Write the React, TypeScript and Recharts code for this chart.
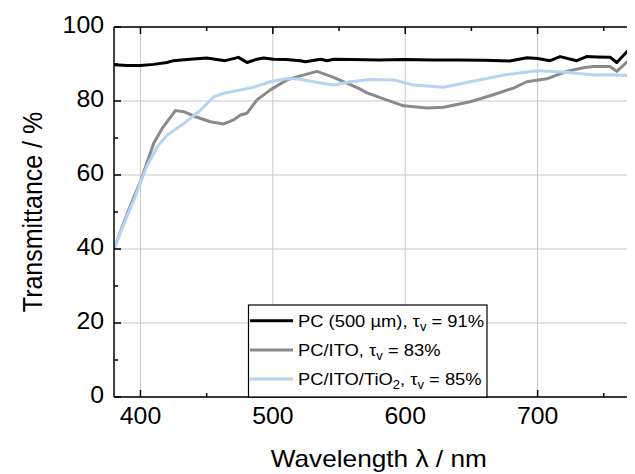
import React from 'react';
import { LineChart, Line, XAxis, YAxis, CartesianGrid } from 'recharts';

// ---- data ----
const pcWavelength = [380, 390, 400, 410, 420, 425, 435, 450, 464, 474, 480.5, 487, 493, 500.6, 510, 520.8, 524.5, 536, 541, 546, 560, 580, 600, 620, 640, 660, 679, 692, 700, 709.4, 717, 729.6, 737, 745, 755, 759.8, 769.8, 773.6, 780];
const pcT = [89.8, 89.6, 89.6, 89.9, 90.4, 90.9, 91.2, 91.6, 90.9, 91.8, 90.4, 91.2, 91.6, 91.3, 91.2, 90.9, 90.6, 91.3, 90.9, 91.3, 91.2, 91.1, 91.2, 91.1, 91.1, 91.0, 90.8, 91.7, 91.5, 90.9, 92.0, 90.9, 92.0, 91.9, 91.8, 90.4, 94.2, 93.0, 92.0];

const itoWavelength = [380, 385, 390, 395, 400, 410, 416.4, 426.4, 432.7, 442.8, 452.8, 462.9, 470.4, 475.5, 480.5, 488, 498.1, 510.7, 520.8, 533.4, 545.9, 558.5, 566, 571.1, 581.1, 598.7, 616.4, 628.9, 649.1, 666.6, 681.7, 691.8, 706.9, 722, 734.6, 742, 754.7, 759.8, 769.8, 773.6, 780];
const itoT = [40, 44.8, 49.5, 54, 58.2, 68.6, 72.6, 77.4, 77.1, 75.6, 74.4, 73.8, 74.9, 76.2, 76.7, 80.3, 83, 85.7, 86.8, 88, 86.4, 84.4, 83.2, 82.2, 80.9, 78.7, 78.1, 78.3, 79.8, 81.7, 83.5, 85.2, 86, 88, 89, 89.3, 89.3, 88, 91.3, 89.8, 89.5];

const tioWavelength = [380, 385, 390, 395, 400, 405, 410, 412.6, 420.2, 432.7, 445.3, 455.3, 462.9, 473, 485.5, 498.1, 510.7, 520.8, 533.4, 545.9, 558.5, 573.6, 591.2, 606.3, 628.9, 649.1, 674.2, 699.4, 722, 742.1, 755, 773.6, 780];
const tioT = [40, 44.5, 49, 53.2, 58, 62.5, 65.8, 67.6, 70.8, 73.9, 77.5, 81.1, 82.1, 82.8, 83.7, 85.2, 86.1, 85.9, 85.0, 84.3, 85.2, 85.8, 85.7, 84.3, 83.7, 85.2, 87, 88.2, 87.8, 87.0, 87.1, 86.8, 86.7];

const seriesNames = ['PC (500 µm)', 'PC/ITO', 'PC/ITO/TiO'];
const seriesNameSub = ['', '', '2'];
const tauV = [91, 83, 85];
const seriesColors = ['#000000', '#8a8a8a', '#b7d3f4'];

const xMajorTicks = [400, 500, 600, 700];
const xMinorTicks = [450, 550, 650, 750];
const yMajorTicks = [0, 20, 40, 60, 80, 100];
const yMinorTicks = [10, 30, 50, 70, 90];
const xDomain: [number, number] = [380, 780];
const yDomain: [number, number] = [0, 100];

const xTitle = 'Wavelength λ / nm';
const yTitle = 'Transmittance / %';

// ---- layout ----
const FONT = '"Liberation Sans", Arial, Helvetica, sans-serif';
const W = 660;
const H = 466;
const M = { top: 19, right: 24.5, left: 0, bottom: 0 };
const Y_W = 106;
const X_H = 77;
const SX = 1.08;

const plotLeft = M.left + Y_W;
const plotTop = M.top;
const plotBottom = H - M.bottom - X_H;
const plotRight = W - M.right;

const toPoints = (wl: number[], t: number[]) => wl.map((w, i) => ({ wl: w, t: t[i] }));
const series = [
  toPoints(pcWavelength, pcT),
  toPoints(itoWavelength, itoT),
  toPoints(tioWavelength, tioT),
];

const xAllTicks = [...xMajorTicks, ...xMinorTicks].sort((a, b) => a - b);
const yAllTicks = [...yMajorTicks, ...yMinorTicks].sort((a, b) => a - b);

const TICK_STROKE = { stroke: '#000', strokeWidth: 1.5 };

// grid only at major ticks: position from the chart's plot offset and the axis domain
const gridX = ({ offset }: any) => {
  const o = offset || { left: plotLeft, width: plotRight - plotLeft };
  return xMajorTicks.map((v) => o.left + ((v - xDomain[0]) / (xDomain[1] - xDomain[0])) * o.width);
};
const gridY = ({ offset }: any) => {
  const o = offset || { top: plotTop, height: plotBottom - plotTop };
  return yMajorTicks.map((v) => o.top + ((yDomain[1] - v) / (yDomain[1] - yDomain[0])) * o.height);
};

const XTick = (p: any) => {
  const v = p.payload.value;
  const major = xMajorTicks.includes(v);
  const len = major ? 7 : 4;
  return (
    <g>
      <line x1={p.x} x2={p.x} y1={plotBottom} y2={plotBottom - len} {...TICK_STROKE} />
      <line x1={p.x} x2={p.x} y1={plotTop} y2={plotTop + len} {...TICK_STROKE} />
      {major && (
        <text
          transform={`translate(${p.x},${p.y}) scale(${SX},1)`}
          textAnchor="middle"
          dy="0.72em"
          fontSize={23}
          fontFamily={FONT}
          fill="#000"
        >
          {v}
        </text>
      )}
    </g>
  );
};

const YTick = (p: any) => {
  const v = p.payload.value;
  const major = yMajorTicks.includes(v);
  const len = major ? 7 : 4;
  return (
    <g>
      <line x1={plotLeft} x2={plotLeft + len} y1={p.y} y2={p.y} {...TICK_STROKE} />
      {major && (
        <text
          transform={`translate(${p.x},${p.y}) scale(${SX},1)`}
          textAnchor="end"
          dy={6}
          fontSize={23}
          fontFamily={FONT}
          fill="#000"
        >
          {v}
        </text>
      )}
    </g>
  );
};

const legendBox = { x: 240.5, y: 297, w: 238.5 };
const legendRows = [312.7, 342, 371];

export default function App() {
  return (
    <div style={{ position: 'relative', width: 627, height: H, overflow: 'hidden' }}>
      <LineChart width={W} height={H} margin={M}>
        <CartesianGrid
          xAxisId="x"
          yAxisId="y"
          stroke="#c9c9c9"
          strokeWidth={1}
          verticalCoordinatesGenerator={gridX}
          horizontalCoordinatesGenerator={gridY}
        />
        <XAxis
          xAxisId="x"
          dataKey="wl"
          type="number"
          domain={xDomain}
          allowDataOverflow
          ticks={xAllTicks}
          interval={0}
          height={X_H}
          tickLine={false}
          tickSize={0}
          tickMargin={10.6}
          tick={XTick}
          axisLine={{ stroke: '#000', strokeWidth: 1.5 }}
        />
        <YAxis
          yAxisId="y"
          type="number"
          domain={yDomain}
          allowDataOverflow
          ticks={yAllTicks}
          interval={0}
          width={Y_W}
          tickLine={false}
          tickSize={0}
          tickMargin={10}
          tick={YTick}
          axisLine={{ stroke: '#000', strokeWidth: 1.5 }}
        />
        {series.map((d, i) => (
          <Line
            key={seriesNames[i]}
            xAxisId="x"
            yAxisId="y"
            data={d}
            dataKey="t"
            type="linear"
            dot={false}
            activeDot={false}
            stroke={seriesColors[i]}
            strokeWidth={3}
            strokeLinejoin="round"
            isAnimationActive={false}
          />
        ))}
      </LineChart>
      <svg
        width={W}
        height={H}
        style={{ position: 'absolute', left: 0, top: 0, pointerEvents: 'none' }}
      >
        {/* top frame of the plot box */}
        <line x1={plotLeft} x2={plotRight} y1={plotTop} y2={plotTop} stroke="#000" strokeWidth={1.5} />
        <text
          transform={`translate(${(plotLeft + plotRight) / 2},${H - 7.3}) scale(1.14,1)`}
          textAnchor="middle"
          fontSize={23}
          fontFamily={FONT}
          fill="#000"
        >
          {xTitle}
        </text>
        <text
          transform={`translate(33.7,${(plotTop + plotBottom) / 2}) rotate(-90) scale(1,${SX})`}
          textAnchor="middle"
          fontSize={25}
          fontFamily={FONT}
          fill="#000"
        >
          {yTitle}
        </text>
        <rect
          x={legendBox.x}
          y={legendBox.y}
          width={legendBox.w}
          height={plotBottom - legendBox.y}
          fill="#fff"
          stroke="#000"
          strokeWidth={1.2}
        />
        {seriesNames.map((name, i) => (
          <g key={name}>
            <line
              x1={legendBox.x + 1.5}
              x2={legendBox.x + 44.5}
              y1={legendRows[i]}
              y2={legendRows[i]}
              stroke={seriesColors[i]}
              strokeWidth={3}
            />
            <text
              transform={`translate(${legendBox.x + 49.5},${legendRows[i] + 6.3}) scale(${SX},1)`}
              fontSize={17}
              fontFamily={FONT}
              fill="#000"
            >
              {name}
              {seriesNameSub[i] ? (
                <>
                  <tspan dy={4} fontSize={12}>{seriesNameSub[i]}</tspan>
                  <tspan dy={-4}>{', τ'}</tspan>
                </>
              ) : (
                <tspan>{', τ'}</tspan>
              )}
              <tspan dy={4} fontSize={12}>v</tspan>
              <tspan dy={-4}>{` = ${tauV[i]}%`}</tspan>
            </text>
          </g>
        ))}
      </svg>
    </div>
  );
}
